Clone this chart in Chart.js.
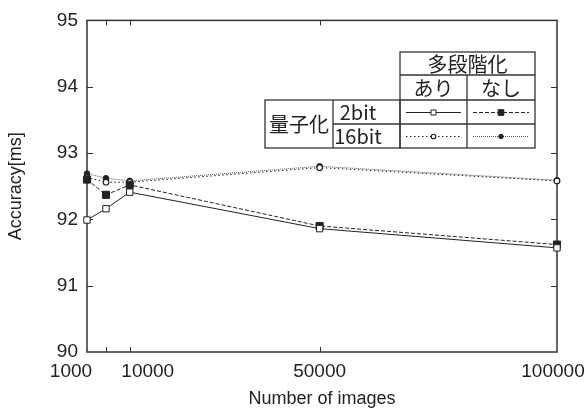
<!DOCTYPE html>
<html><head><meta charset="utf-8">
<script src="https://cdn.jsdelivr.net/npm/chart.js@4/dist/chart.umd.min.js"></script>
<style>html,body{margin:0;padding:0;background:#fff}#wrap{width:587px;height:410px;position:relative}</style>
</head><body><div id="wrap"><canvas id="c"></canvas></div>
<script>
// ---- data ----
const xValues = [1000, 5000, 10000, 50000, 100000];
const xTickLabels = ['1000', '', '10000', '50000', '100000'];
const yTicks = [90, 91, 92, 93, 94, 95];
const seriesNames = ['2bit あり', '2bit なし', '16bit あり', '16bit なし'];
const q2bitAri = [91.99, 92.16, 92.41, 91.86, 91.57];
const q2bitNashi = [92.60, 92.37, 92.52, 91.90, 91.62];
const q16bitAri = [92.63, 92.56, 92.56, 92.78, 92.58];
const q16bitNashi = [92.69, 92.62, 92.58, 92.80, 92.59];
const legendHeader = '多段階化';
const legendCols = ['あり', 'なし'];
const legendRowTitle = '量子化';
const legendRows = ['2bit', '16bit'];
const xTitle = 'Number of images';
const yTitle = 'Accuracy[ms]';

const INK = '#222';
const pts = arr => xValues.map((x, i) => ({x: x, y: arr[i]}));

const datasets = [
  {label: seriesNames[0], data: pts(q2bitAri), borderColor: INK, borderWidth: 1, borderDash: [],
   pointStyle: 'rect', pointRadius: 4.5, pointBackgroundColor: '#fff', pointBorderColor: INK, pointBorderWidth: 1},
  {label: seriesNames[1], data: pts(q2bitNashi), borderColor: INK, borderWidth: 1, borderDash: [4, 2],
   pointStyle: 'rect', pointRadius: 5, pointBackgroundColor: INK, pointBorderColor: INK, pointBorderWidth: 1},
  {label: seriesNames[2], data: pts(q16bitAri), borderColor: INK, borderWidth: 1, borderDash: [1.5, 2.5],
   pointStyle: 'circle', pointRadius: 2.8, pointBackgroundColor: '#fff', pointBorderColor: INK, pointBorderWidth: 1.2},
  {label: seriesNames[3], data: pts(q16bitNashi), borderColor: '#555', borderWidth: 1, borderDash: [1, 1],
   pointStyle: 'circle', pointRadius: 2.8, pointBackgroundColor: INK, pointBorderColor: INK, pointBorderWidth: 1}
].map(d => Object.assign({fill: false, tension: 0, clip: false, backgroundColor: d.pointBackgroundColor}, d));

// frame + inward tick marks
const framePlugin = {
  id: 'frame',
  beforeDatasetsDraw(chart) {
    const {ctx, chartArea: a, scales: {x, y}} = chart;
    ctx.save();
    ctx.strokeStyle = '#333';
    ctx.lineWidth = 1.5;
    ctx.strokeRect(a.left, a.top, a.right - a.left, a.bottom - a.top);
    ctx.lineWidth = 1;
    y.ticks.forEach(t => {
      if (t.value <= y.min || t.value >= y.max) return;
      const py = Math.round(y.getPixelForValue(t.value)) + 0.5;
      ctx.beginPath();
      ctx.moveTo(a.left, py); ctx.lineTo(a.left + 6, py);
      ctx.moveTo(a.right, py); ctx.lineTo(a.right - 6, py);
      ctx.stroke();
    });
    x.ticks.forEach(t => {
      if (t.value <= x.min || t.value >= x.max) return;
      const px = Math.round(x.getPixelForValue(t.value)) + 0.5;
      ctx.beginPath();
      ctx.moveTo(px, a.bottom); ctx.lineTo(px, a.bottom - 5);
      ctx.moveTo(px, a.top); ctx.lineTo(px, a.top + 5);
      ctx.stroke();
    });
    ctx.restore();
  }
};

// x tick labels (shifted apart like the original)
const xLabelPlugin = {
  id: 'xlabels',
  afterDraw(chart, args, opts) {
    const {ctx, scales: {x}} = chart;
    ctx.save();
    ctx.font = '19px "Liberation Sans", Arial, sans-serif';
    ctx.fillStyle = INK;
    ctx.textAlign = 'center';
    ctx.textBaseline = 'middle';
    x.ticks.forEach((t, i) => {
      const lbl = xTickLabels[xValues.indexOf(t.value)];
      if (!lbl) return;
      const shift = opts.shift[t.value] || 0;
      ctx.fillText(lbl, x.getPixelForValue(t.value) + shift, opts.y);
    });
    ctx.restore();
  }
};

// table-style legend
const tableLegendPlugin = {
  id: 'tableLegend',
  afterDraw(chart, args, o) {
    const {ctx} = chart;
    ctx.save();
    ctx.strokeStyle = '#333';
    ctx.lineWidth = 1.3;
    const L = o.left, C1 = o.c1, C2 = o.c2, C3 = o.c3, R = o.right;
    const [r0, r1, r2, r3, r4] = o.rows;
    const line = (x1, y1, x2, y2) => { ctx.beginPath(); ctx.moveTo(x1, y1); ctx.lineTo(x2, y2); ctx.stroke(); };
    ctx.strokeRect(C2, r0, R - C2, r4 - r0);
    line(C2, r1, R, r1); line(C2, r2, R, r2); line(C2, r3, R, r3);
    line(C3, r1, C3, r4);
    ctx.strokeRect(L, r2, C2 - L, r4 - r2);
    line(C1, r3, C2, r3);
    line(C1, r2, C1, r4);

    ctx.fillStyle = INK;
    ctx.textAlign = 'center';
    ctx.textBaseline = 'middle';
    ctx.font = '20px "Noto Sans CJK JP", sans-serif';
    ctx.fillText(legendHeader, (C2 + R) / 2, (r0 + r1) / 2 + 0.5);
    ctx.fillText(legendCols[0], (C2 + C3) / 2, (r1 + r2) / 2 + 0.5);
    ctx.fillText(legendCols[1], (C3 + R) / 2, (r1 + r2) / 2 + 0.5);
    ctx.fillText(legendRowTitle, (L + C1) / 2, (r2 + r4) / 2 + 0.5);
    ctx.fillText(legendRows[0], o.rowLabelX, (r2 + r3) / 2 + 0.5);
    ctx.fillText(legendRows[1], o.rowLabelX, (r3 + r4) / 2 + 0.5);

    // samples
    const cells = [[C2, C3], [C3, R]];
    chart.data.datasets.forEach((ds, i) => {
      const row = i < 2 ? 0 : 1, col = i % 2;
      const cy = row === 0 ? (r2 + r3) / 2 : (r3 + r4) / 2;
      const [cx1, cx2] = cells[col];
      const x1 = cx1 + 6, x2 = cx2 - 6, xm = (cx1 + cx2) / 2;
      ctx.save();
      ctx.strokeStyle = ds.borderColor;
      ctx.lineWidth = ds.borderWidth;
      ctx.setLineDash(ds.borderDash);
      line(x1, Math.round(cy) + 0.5, x2, Math.round(cy) + 0.5);
      ctx.setLineDash([]);
      ctx.fillStyle = ds.pointBackgroundColor;
      ctx.strokeStyle = ds.pointBorderColor;
      ctx.lineWidth = ds.pointBorderWidth;
      Chart.helpers.drawPoint(ctx, {pointStyle: ds.pointStyle, radius: ds.pointRadius * 0.8, rotation: 0, borderWidth: ds.pointBorderWidth}, xm, Math.round(cy) + 0.5);
      ctx.restore();
    });
    ctx.restore();
  }
};

new Chart(document.getElementById('c'), {
  type: 'line',
  data: {datasets: datasets},
  plugins: [framePlugin, xLabelPlugin, tableLegendPlugin],
  options: {
    responsive: true,
    maintainAspectRatio: false,
    animation: false,
    layout: {padding: {top: 20, right: 30, left: 0, bottom: 0}},
    plugins: {
      legend: {display: false},
      tooltip: {enabled: false},
      xlabels: {y: 372, shift: {1000: -16, 10000: 18, 50000: 0, 100000: -4}},
      tableLegend: {left: 265, c1: 333, c2: 400, c3: 467, right: 535, rows: [52, 75, 100, 124, 148], rowLabelX: 358}
    },
    scales: {
      x: {
        type: 'linear', min: xValues[0], max: xValues[xValues.length - 1],
        afterBuildTicks: s => { s.ticks = xValues.map(v => ({value: v})); },
        afterFit: s => { s.height = 58; },
        grid: {display: false, drawTicks: false},
        border: {display: false},
        ticks: {display: false},
        title: {display: true, text: xTitle, color: INK, font: {family: '"Liberation Sans", Arial, sans-serif', size: 18}, padding: {top: 0, bottom: 0}}
      },
      y: {
        type: 'linear', min: yTicks[0], max: yTicks[yTicks.length - 1],
        afterBuildTicks: s => { s.ticks = yTicks.map(v => ({value: v})); },
        afterFit: s => { s.width = 87; },
        grid: {display: false, drawTicks: false},
        border: {display: false},
        ticks: {color: INK, padding: 9, font: {family: '"Liberation Sans", Arial, sans-serif', size: 19}, callback: v => String(v)},
        title: {display: true, text: yTitle, color: INK, font: {family: '"Liberation Sans", Arial, sans-serif', size: 18}, padding: {top: 5, bottom: 0}}
      }
    }
  }
});
</script>
</body></html>
